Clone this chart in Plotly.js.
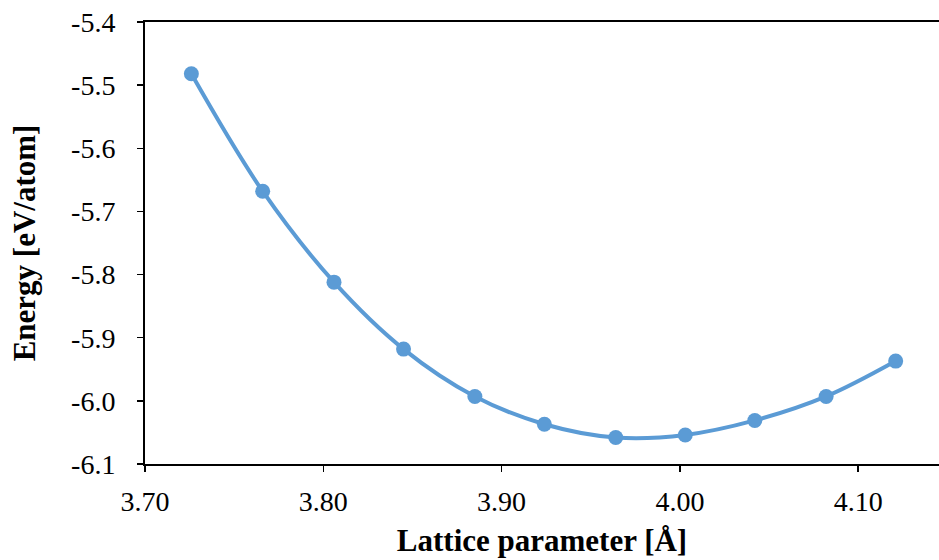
<!DOCTYPE html>
<html>
<head>
<meta charset="utf-8">
<script src="https://cdn.plot.ly/plotly-3.0.1.min.js"></script>
<style>html,body{margin:0;padding:0;background:#fff;}#chart{width:939px;height:560px;}</style>
</head>
<body>
<div id="chart"></div>
<script>
const latticeParam = [3.726, 3.766, 3.806, 3.845, 3.885, 3.924, 3.964, 4.003, 4.042, 4.082, 4.121];
const energy = [-5.482, -5.668, -5.812, -5.918, -5.993, -6.037, -6.058, -6.054, -6.031, -5.993, -5.937];
const xTickVals = [3.70, 3.80, 3.90, 4.00, 4.10];
const xTickText = ["3.70", "3.80", "3.90", "4.00", "4.10"];
const yTickVals = [-6.1, -6.0, -5.9, -5.8, -5.7, -5.6, -5.5, -5.4];
const yTickText = ["-6.1", "-6.0", "-5.9", "-5.8", "-5.7", "-5.6", "-5.5", "-5.4"];

const fontFam = '"Liberation Serif", "Times New Roman", serif';
const color = '#5B9BD5';

const trace = {
  x: latticeParam,
  y: energy,
  mode: 'lines+markers',
  type: 'scatter',
  line: {shape: 'spline', smoothing: 1, color: color, width: 4},
  marker: {color: color, size: 15},
  showlegend: false,
  hoverinfo: 'none'
};

const layout = {
  width: 939, height: 560,
  margin: {l: 145, r: 0, t: 22, b: 96},
  paper_bgcolor: '#fff', plot_bgcolor: '#fff',
  font: {family: fontFam, color: '#000', size: 28},
  xaxis: {
    range: [3.70, 4.1453],
    tickmode: 'array', tickvals: xTickVals, ticktext: xTickText,
    showline: true, linecolor: '#000', linewidth: 2, mirror: true,
    ticks: 'outside', ticklen: 6, tickwidth: 1.5, tickcolor: '#000',
    ticklabelstandoff: 5,
    showgrid: false, zeroline: false,
    tickfont: {family: fontFam, size: 28, color: '#000'},
    title: {text: '<b>Lattice parameter [Å]</b>', font: {family: fontFam, size: 31, color: '#000'}, standoff: 14}
  },
  yaxis: {
    range: [-6.1, -5.4],
    tickmode: 'array', tickvals: yTickVals, ticktext: yTickText,
    showline: true, linecolor: '#000', linewidth: 2,
    ticks: 'outside', ticklen: 6, tickwidth: 1.5, tickcolor: '#000',
    ticklabelstandoff: 16,
    showgrid: false, zeroline: false,
    tickfont: {family: fontFam, size: 28, color: '#000'},
    title: {text: '<b>Energy [eV/atom]</b>', font: {family: fontFam, size: 31, color: '#000'}, standoff: 26}
  }
};

Plotly.newPlot('chart', [trace], layout, {displayModeBar: false, staticPlot: true});
</script>
</body>
</html>
